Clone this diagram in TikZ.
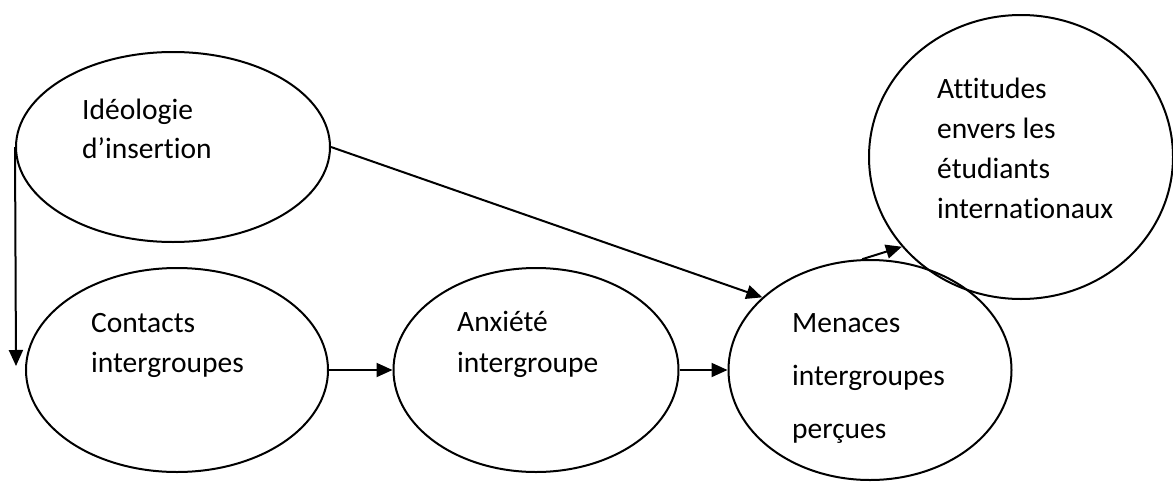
\documentclass[tikz,border=0pt]{standalone}
\usepackage{fontspec}
\setmainfont{Carlito}[Ligatures=NoCommon]
\usetikzlibrary{shapes.geometric,arrows.meta}
\tikzset{
  bulle/.style={ellipse, draw, line width=2pt, inner sep=0pt},
  etiq/.style={anchor=base west, align=left, inner sep=0pt},
  fleche/.style={line width=2pt, -{Triangle[length=16pt,width=14pt]}}
}
\begin{document}
\begin{tikzpicture}[x=1pt,y=-1pt]
\useasboundingbox (0,0) rectangle (1173,482);
% les ellipses
\node[bulle, minimum width=314pt, minimum height=190pt] (ideo) at (173,147) {};
\node[bulle, minimum width=302pt, minimum height=204pt] (contacts) at (177,370) {};
\node[bulle, minimum width=285pt, minimum height=204pt] (anxiete) at (536,370) {};
\node[bulle, minimum width=283pt, minimum height=220pt] (menaces) at (870,370) {};
\node[bulle, minimum width=304pt, minimum height=284pt] (attitudes) at (1021,157) {};
% les textes (ancre sur la derniere ligne)
\node[etiq, font=\fontsize{29.5}{39}\selectfont] (tideo) at (82,158) {Idéologie\\d’insertion};
\node[etiq, font=\fontsize{29.5}{40}\selectfont] (tcontacts) at (91,372) {Contacts\\intergroupes};
\node[etiq, font=\fontsize{29.5}{41}\selectfont] (tanxiete) at (457,372) {Anxiété\\intergroupe};
\node[etiq, font=\fontsize{29.5}{53}\selectfont] (tmenaces) at (792,438) {Menaces\\intergroupes\\perçues};
\node[etiq, font=\fontsize{29.5}{40}\selectfont] (tattitudes) at (937,218) {Attitudes\\envers les\\étudiants\\internationaux};
% les liens
\coordinate (bas) at (16,366);
\draw[fleche] (ideo.west) -- (bas);
\draw[fleche] (ideo.east) -- (menaces.146);
\draw[fleche] (contacts.east) -- (anxiete.west);
\draw[fleche] (anxiete.east) -- (menaces.west);
\draw[fleche] (menaces.94) -- (attitudes.217);
\end{tikzpicture}
\end{document}
